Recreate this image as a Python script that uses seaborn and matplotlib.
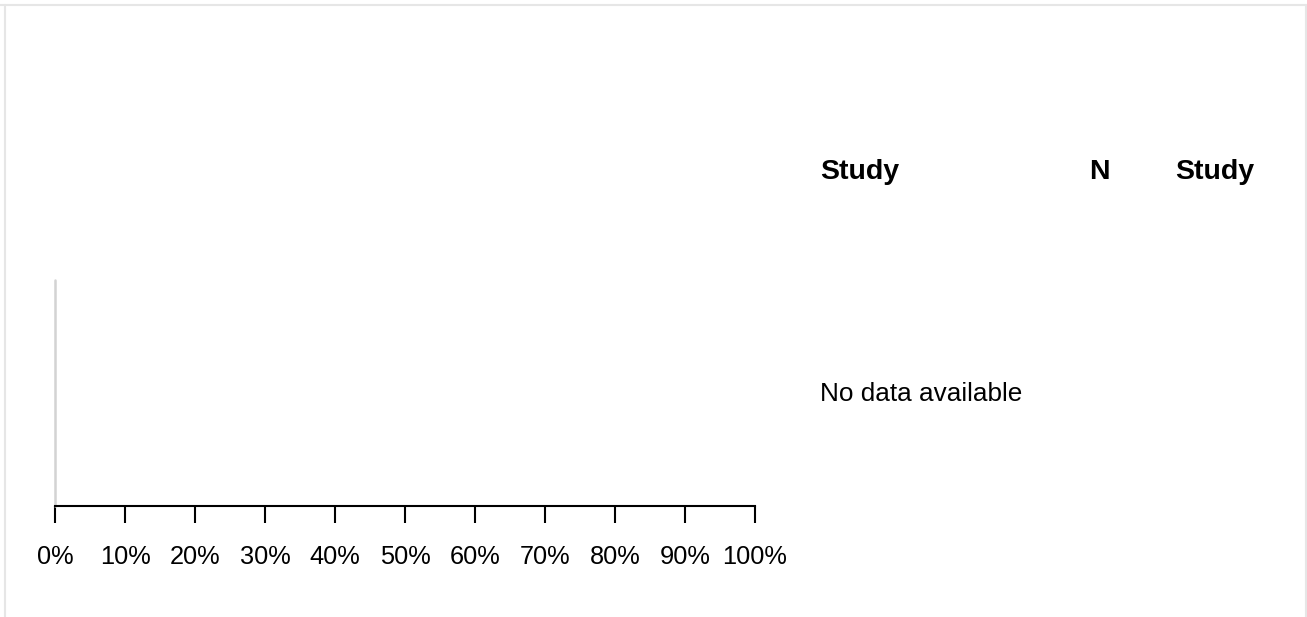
import matplotlib
matplotlib.use("Agg")
from matplotlib import pyplot as plt
from matplotlib.lines import Line2D
import seaborn as sns

# chart data
tick_values = [0, 10, 20, 30, 40, 50, 60, 70, 80, 90, 100]
tick_labels = [f"{v}%" for v in tick_values]
header_labels = ["Study", "N", "Study"]
empty_message = "No data available"

W, H = 1307, 617
sns.set_theme(style="white")
plt.rcParams['font.family'] = ['Liberation Sans', 'DejaVu Sans']

fig = plt.figure(figsize=(W / 100, H / 100), dpi=100)

def px(x, y):
    return x / W, 1 - y / H

# forest plot panel (empty)
left, top = px(55, 280)
right, bottom = px(755, 506)
ax = fig.add_axes([left, bottom, right - left, top - bottom])
ax.set_xlim(0, 100)
ax.set_ylim(0, 1)
ax.axvline(0, color='#d3d3d3', lw=1.8, clip_on=False)
sns.despine(ax=ax, left=True)
ax.spines['bottom'].set_color('black')
ax.spines['bottom'].set_linewidth(1.5)
ax.set_xticks(tick_values)
ax.set_xticklabels(tick_labels, fontsize=18.3, color='black')
ax.tick_params(axis='x', direction='out', length=12, width=1.5,
               color='black', pad=16, bottom=True)
ax.set_yticks([])
ax.patch.set_alpha(0)

# table headers
hx = [820, 1099, 1175]
ha = ['left', 'center', 'left']
for label, x, a in zip(header_labels, hx, ha):
    fig.text(*px(x, 172), label, fontsize=20.5, fontweight='bold',
             ha=a, va='center', color='black')

fig.text(*px(820, 394), empty_message, fontsize=18.8, ha='left',
         va='center', color='black')

# light frame around the panel
frame = '#e6e6e6'
fig.add_artist(Line2D([0, 1], [1 - 5 / H] * 2, color=frame, lw=1.5,
                      transform=fig.transFigure))
fig.add_artist(Line2D([4.5 / W] * 2, [0, 1 - 5 / H], color=frame, lw=1.5,
                      transform=fig.transFigure))
fig.add_artist(Line2D([1305.5 / W] * 2, [0, 1 - 5 / H], color=frame, lw=1.5,
                      transform=fig.transFigure))

fig.savefig("out.png", dpi=100, facecolor='white')
